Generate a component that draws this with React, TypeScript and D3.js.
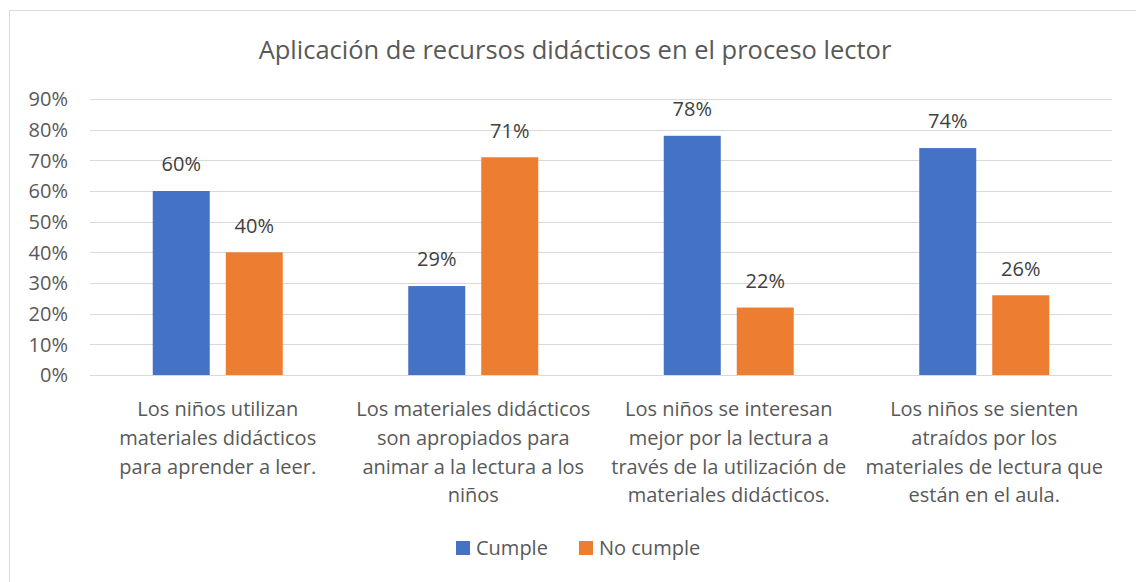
import React, { useEffect, useRef } from 'react';
import * as d3 from 'd3';

const categories = [
  ['Los niños utilizan', 'materiales didácticos', 'para aprender a leer.'],
  ['Los materiales didácticos', 'son apropiados para', 'animar a la lectura a los', 'niños'],
  ['Los niños se interesan', 'mejor por la lectura a', 'través de la utilización de', 'materiales didácticos.'],
  ['Los niños se sienten', 'atraídos por los', 'materiales de lectura que', 'están en el aula.'],
];
const seriesNames = ['Cumple', 'No cumple'];
const cumple = [0.60, 0.29, 0.78, 0.74];
const noCumple = [0.40, 0.71, 0.22, 0.26];
const yTicks = [0, 0.1, 0.2, 0.3, 0.4, 0.5, 0.6, 0.7, 0.8, 0.9];
const colors = ['#4472C4', '#ED7D31'];

const W = 1136, H = 582;
const FONT = '"Open Sans", sans-serif';
const GREY = '#595959';
// Open Sans sits a little high with dominant-baseline middle
const DY = 2;

const App = () => {
  const ref = useRef<SVGSVGElement>(null);

  useEffect(() => {
    document.body.style.margin = '0';
    const svg = d3.select(ref.current);
    svg.selectAll('*').remove();

    const left = 90, right = 1112, top = 99, bottom = 375;

    svg.append('rect')
      .attr('x', 9.5).attr('y', 10.5)
      .attr('width', W + 10).attr('height', H + 10)
      .attr('fill', 'white').attr('stroke', '#d9d9d9');

    svg.append('text')
      .attr('x', 575).attr('y', 50 + DY)
      .attr('text-anchor', 'middle').attr('dominant-baseline', 'middle')
      .attr('font-family', FONT).attr('font-size', 25.5).attr('fill', GREY)
      .text('Aplicación de recursos didácticos en el proceso lector');

    const y = d3.scaleLinear().domain([0, 0.9]).range([bottom, top]);
    const x = d3.scaleBand<number>().domain(d3.range(categories.length)).range([left, right]);

    const grid = svg.append('g');
    grid.selectAll('line').data(yTicks).enter().append('line')
      .attr('x1', left).attr('x2', right)
      .attr('y1', d => Math.round(y(d)) + 0.5).attr('y2', d => Math.round(y(d)) + 0.5)
      .attr('stroke', '#d9d9d9').attr('stroke-width', 1);

    svg.append('g').selectAll('text').data(yTicks).enter().append('text')
      .attr('x', 68).attr('y', d => y(d) + DY)
      .attr('text-anchor', 'end').attr('dominant-baseline', 'middle')
      .attr('font-family', FONT).attr('font-size', 20).attr('fill', GREY)
      .text(d => d3.format('.0%')(d));

    const barW = 57, gap = 16;
    const series = [cumple, noCumple];
    series.forEach((vals, si) => {
      const off = si === 0 ? -gap / 2 - barW : gap / 2;
      const g = svg.append('g');
      g.selectAll('rect').data(vals).enter().append('rect')
        .attr('x', (d, i) => x(i)! + x.bandwidth() / 2 + off)
        .attr('y', d => y(d))
        .attr('width', barW)
        .attr('height', d => bottom - y(d))
        .attr('fill', colors[si]);
      g.selectAll('text').data(vals).enter().append('text')
        .attr('x', (d, i) => x(i)! + x.bandwidth() / 2 + off + barW / 2)
        .attr('y', d => y(d) - 27 + DY)
        .attr('text-anchor', 'middle').attr('dominant-baseline', 'middle')
        .attr('font-family', FONT).attr('font-size', 20).attr('fill', '#404040')
        .text(d => d3.format('.0%')(d));
    });

    const cat = svg.append('g');
    categories.forEach((lines, i) => {
      const t = cat.append('text')
        .attr('text-anchor', 'middle')
        .attr('font-family', FONT).attr('font-size', 20).attr('fill', GREY);
      lines.forEach((ln, j) => {
        t.append('tspan')
          .attr('x', x(i)! + x.bandwidth() / 2)
          .attr('y', 409 + j * 28.7 + DY)
          .attr('dominant-baseline', 'middle')
          .text(ln);
      });
    });

    const legend = svg.append('g');
    const lx = [456, 579];
    seriesNames.forEach((name, i) => {
      legend.append('rect')
        .attr('x', lx[i]).attr('y', 541).attr('width', 14).attr('height', 14)
        .attr('fill', colors[i]);
      legend.append('text')
        .attr('x', lx[i] + 20).attr('y', 548 + DY)
        .attr('dominant-baseline', 'middle')
        .attr('font-family', FONT).attr('font-size', 20).attr('fill', GREY)
        .text(name);
    });
  }, []);

  return <svg ref={ref} width={W} height={H} style={{ display: 'block' }} />;
};

export default App;
